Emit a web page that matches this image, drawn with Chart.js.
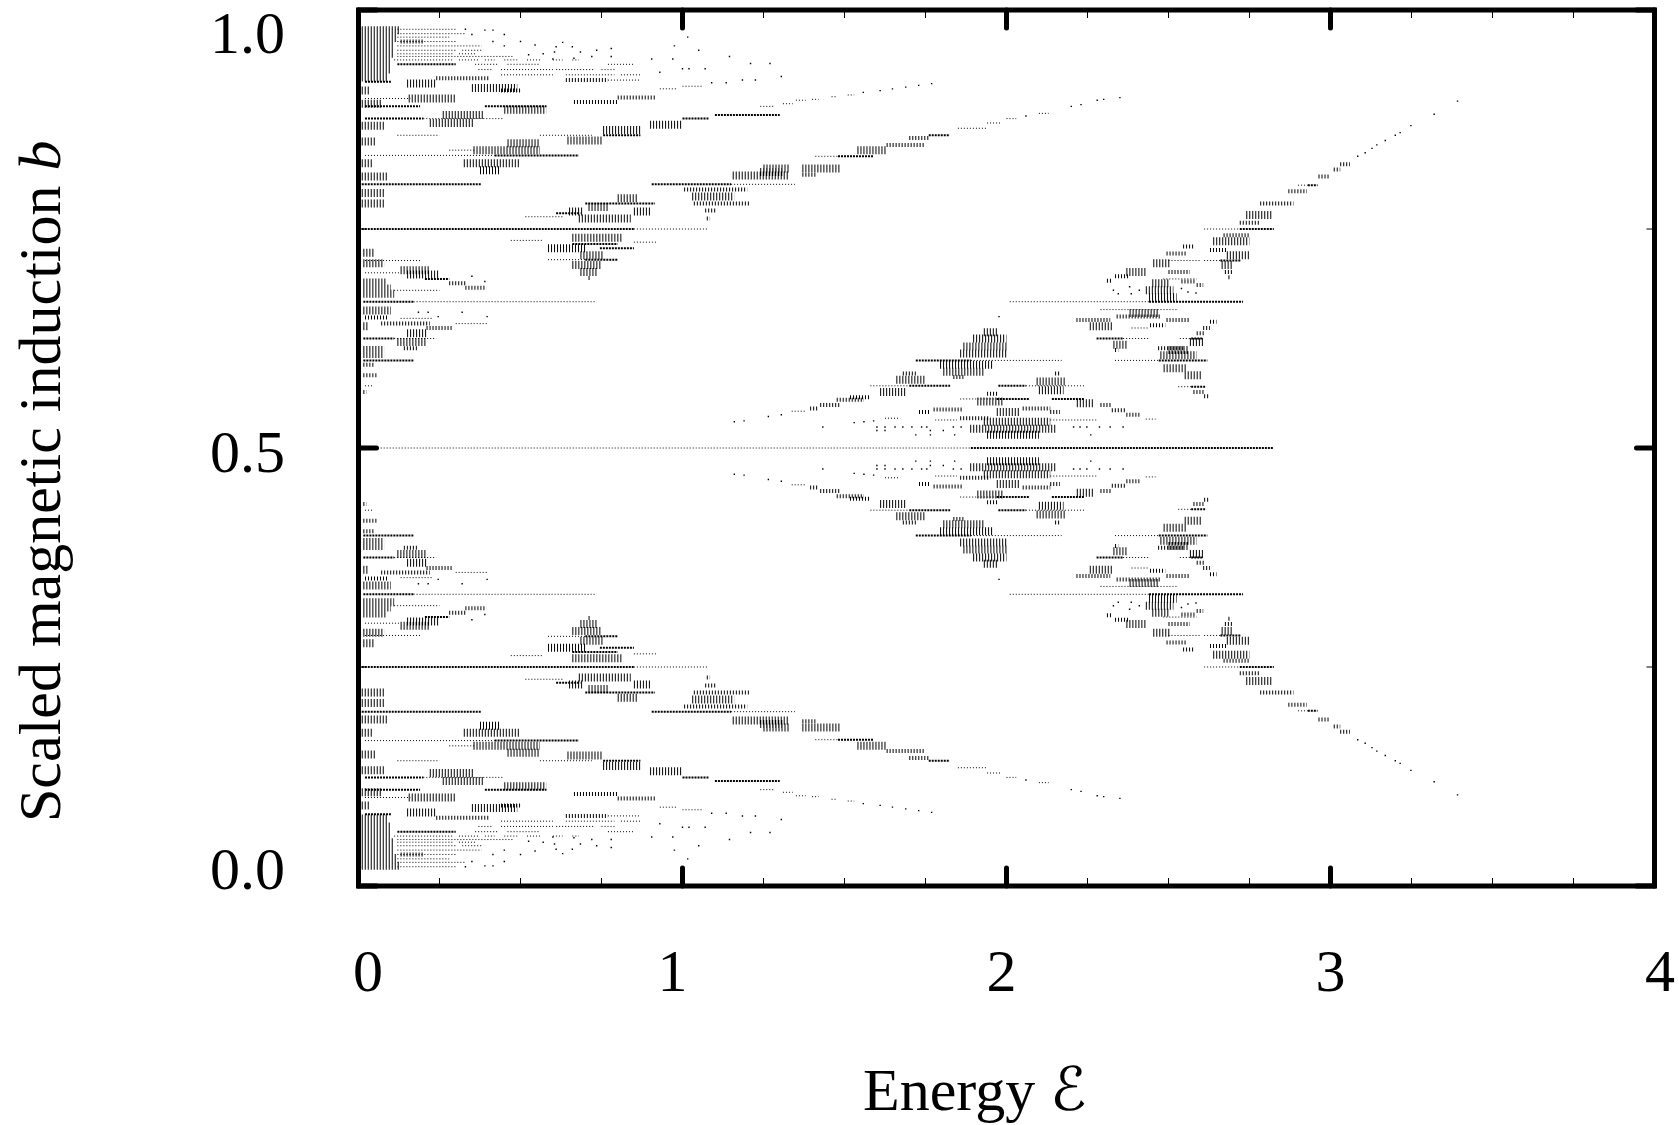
<!DOCTYPE html>
<html>
<head>
<meta charset="utf-8">
<title>Scaled magnetic induction vs energy</title>
<script src="https://cdn.jsdelivr.net/npm/chart.js@4"></script>
<style>
  body { margin: 0; background: #fff; overflow: hidden; }
  canvas { display: block; }
</style>
</head>
<body>
<canvas id="chart" width="1679" height="1125"></canvas>
<script>
// values. rows are [b, energy from, energy to], specks are [b, energy]
const faintUpper = [[.978,.12,.3],[.973,.12,.33],[.969,.12,.28],[.964,.12,.3],[.959,.12,.38],[.954,.12,.3],[.954,.32,.38],[.95,.12,.29],[.95,.31,.36],[.947,.12,.48],[.943,.11,.29],[.943,.31,.37],[.943,.39,.42],[.943,.45,.49],[.943,.52,.56],[.943,.6,.63],[.943,.66,.68],[.938,.36,.43],[.938,.46,.56],[.938,.77,.85],[.932,.37,.41],[.932,.44,.6],[.932,.61,.73],[.932,.75,.79],[.926,.44,.6],[.926,.64,.79],[.926,.81,.87],[.92,.77,.87],[.913,1,1.065],[.91,.93,.98],[.899,.02,.16],[.876,.2,.45],[.857,.12,.25],[.857,.56,.72],[.84,.28,.36],[.834,.02,.42],[.801,1.15,1.347],[.75,.85,1.08],[.764,.515,.63],[.735,.85,.92],[.737,.47,.57],[.715,.585,.7],[.714,.02,.19],[.7,.02,.13],[.68,.11,.25],[.667,.17,.735],[.648,.13,.23],[.642,.3,.4],[.625,.11,.24],[.571,.02,.045],[.89,1.24,1.285],[.893,1.31,1.34],[.897,1.35,1.38],[.898,1.4,1.42],[.901,1.46,1.475],[.903,1.51,1.53],[.865,1.85,1.94],[.871,1.94,1.98],[.876,2,2.03],[.882,2.1,2.13],[.6,1.89,2.17],[.571,1.58,1.7],[.571,2.06,2.24],[.556,1.857,1.97],[.5,.05,1.89],[.542,1.337,1.378],[.534,1.625,1.67],[.532,1.78,1.847],[.532,2.135,2.28],[.6,2.335,2.47],[.57,2.53,2.57],[.533,2.43,2.46],[.667,2.01,2.44],[.75,2.61,2.72],[.714,2.61,2.66],[.714,2.5,2.6],[.693,2.484,2.587],[.8,2.9,2.93],[.833,1.41,1.48],[.658,2.29,2.525],[.625,2.36,2.443],[.637,2.386,2.44],[.625,2.535,2.57]];
const boldUpper = [[.938,.12,.3],[.918,.02,.1],[.89,.02,.19],[.89,.39,.58],[.876,.02,.2],[.857,.755,.87],[.834,.42,.68],[.801,.01,.38],[.801,.905,1.15],[.779,.7,.915],[.768,.61,.685],[.75,.01,.85],[.733,.66,.8],[.728,.745,.85],[.715,.7,.8],[.693,.205,.28],[.667,.015,.17],[.625,.015,.11],[.6,.015,.17],[.5,1.89,2.825],[.6,1.72,1.89],[.6,2.47,2.62],[.571,1.7,1.826],[.571,1.975,2.06],[.556,1.97,2.07],[.556,2.14,2.24],[.667,2.44,2.73],[.75,2.72,2.825],[.714,2.66,2.725],[.57,2.57,2.613],[.833,1.48,1.59],[.857,1.76,1.825],[.8,2.93,2.96],[.88,1.1,1.3],[.876,1,1.08],[.625,2.278,2.36],[.625,2.57,2.607]];
const midUpper = [[.895,.665,.8],[.9,.8,.92],[.92,.64,.77],[.922,.24,.405],[.908,.44,.5],[.795,1.005,1.2],[.779,1.035,1.21],[.771,1.07,1.105],[.762,1.075,1.085],[.743,2.67,2.75],[.726,2.628,2.68],[.555,1.476,1.56],[.558,1.517,1.58],[.585,1.68,1.72],[.581,1.836,1.867],[.549,1.425,1.487],[.545,1.394,1.42],[.562,1.94,1.975],[.544,1.775,1.867],[.545,2.05,2.135],[.541,2.135,2.165],[.541,1.73,1.765],[.534,1.857,1.95],[.585,2.15,2.165],[.549,2.29,2.325],[.543,2.325,2.37],[.538,2.37,2.41],[.564,2.577,2.613],[.559,2.61,2.625],[.793,2.87,2.927],[.779,2.783,2.886],[.757,2.72,2.78],[.81,2.963,2.994],[.818,3.01,3.03],[.824,3.03,3.06],[.722,2.494,2.556],[.73,2.545,2.576],[.701,2.5,2.566],[.696,2.335,2.38],[.691,2.31,2.325],[.701,2.674,2.698],[.695,2.685,2.69],[.69,2.54,2.58],[.686,2.587,2.607],[.846,1.63,1.75],[.854,1.7,1.76],[.688,.28,.33],[.683,.33,.395],[.642,.07,.22],[.637,.21,.29],[.649,.02,.09],[.614,.14,.18],[.605,.015,.08],[.595,.015,.05],[.583,.015,.06],[.564,.015,.025],[.694,.71,.715],[.964,.13,.2],[.812,1.37,1.41],[.646,2.216,2.32],[.65,2.34,2.474],[.64,2.443,2.49],[.646,2.494,2.566],[.631,2.587,2.612],[.637,2.607,2.628],[.644,2.628,2.648],[.614,2.468,2.55],[.612,2.335,2.345]];
const tallUpper = [[.977,.01,.13],[.968,.01,.12],[.959,.01,.11],[.95,.01,.11],[.941,.01,.1],[.932,.01,.1],[.923,.01,.09],[.908,.01,.035],[.893,.01,.07],[.868,.01,.08],[.85,.01,.055],[.825,.01,.045],[.81,.01,.09],[.791,.01,.08],[.779,.01,.08],[.723,.015,.05],[.711,.015,.08],[.689,.015,.087],[.682,.015,.1],[.676,.015,.11],[.657,.015,.1],[.639,.015,.03],[.612,.015,.08],[.916,.15,.24],[.899,.155,.3],[.911,.35,.49],[.88,.26,.385],[.871,.22,.355],[.848,.46,.56],[.84,.355,.56],[.825,.325,.5],[.817,.375,.435],[.851,.645,.755],[.863,.755,.87],[.886,.45,.58],[.869,.9,1],[.787,1.03,1.16],[.811,1.155,1.33],[.819,1.25,1.33],[.815,1.24,1.31],[.819,1.37,1.486],[.84,1.54,1.63],[.785,.8,.86],[.775,.71,.77],[.77,.85,.9],[.77,.65,.695],[.762,.68,.84],[.74,.66,.815],[.728,.585,.7],[.72,.685,.755],[.709,.66,.75],[.701,.685,.735],[.703,.13,.22],[.698,.15,.25],[.631,.15,.21],[.621,.12,.21],[.564,1.61,1.69],[.578,1.66,1.75],[.595,1.795,1.96],[.587,1.805,1.93],[.608,1.857,2],[.616,1.867,2],[.625,1.897,2],[.632,1.93,1.975],[.553,1.91,1.99],[.576,2.093,2.18],[.566,2.1,2.176],[.551,2.217,2.27],[.53,1.93,2.135],[.522,1.888,2.155],[.515,1.94,2.1],[.541,1.97,2.04],[.606,2.475,2.587],[.612,2.5,2.56],[.591,2.485,2.555],[.583,2.55,2.6],[.736,2.638,2.75],[.72,2.68,2.75],[.709,2.664,2.7],[.711,2.453,2.504],[.701,2.37,2.43],[.688,2.45,2.5],[.68,2.43,2.515],[.672,2.44,2.525],[.766,2.74,2.82],[.654,2.38,2.47],[.639,2.257,2.33],[.618,2.33,2.376],[.621,2.566,2.607]];
const specksUpper = [[.969,1.016],[.959,.975],[.954,1.05],[.947,1.145],[.944,.97],[.944,.905],[.939,1.21],[.939,1.27],[.933,1.07],[.933,1],[.933,1.02],[.929,.93],[.924,1.305],[.92,1.225],[.92,1.185],[.917,1.135],[.917,1.09],[.964,.5],[.96,.545],[.958,.61],[.963,.63],[.958,.66],[.952,.605],[.952,.685],[.954,.735],[.956,.78],[.947,.78],[.947,.72],[.945,.665],[.944,.6],[.95,.57],[.949,.525],[.972,.35],[.977,.39],[.977,.415],[.972,.45],[.964,.415],[.959,.45],[.978,.33],[.906,1.558],[.908,1.61],[.91,1.648],[.912,1.689],[.914,1.729],[.916,1.769],[.879,2.06],[.89,2.2],[.892,2.23],[.897,2.28],[.898,2.3],[.9,2.35],[.833,3.084],[.837,3.107],[.842,3.128],[.846,3.143],[.851,3.169],[.857,3.2],[.86,3.215],[.868,3.248],[.881,3.32],[.896,3.392],[.53,1.16],[.531,1.19],[.536,1.265],[.538,1.305],[.524,1.433],[.529,1.53],[.53,1.56],[.531,1.59],[.524,1.6],[.524,1.625],[.524,1.656],[.524,1.68],[.524,1.708],[.524,1.738],[.524,1.754],[.52,1.6],[.52,1.625],[.52,1.765],[.52,1.805],[.515,1.72],[.515,1.765],[.515,1.84],[.524,1.836],[.524,1.86],[.524,2.207],[.524,2.227],[.524,2.248],[.524,2.287],[.524,2.32],[.524,2.36],[.515,2.26],[.655,.185],[.655,.215],[.65,.246],[.655,.32],[.65,.397],[.696,.35],[.69,.39],[.68,2.33],[.676,2.345],[.684,2.38],[.676,2.385],[.68,2.41],[.682,2.54],[.678,2.56],[.677,2.585],[.65,1.977]];

const faintLower = [[.022,.12,.3],[.027,.12,.33],[.031,.12,.28],[.036,.12,.3],[.041,.12,.38],[.046,.12,.3],[.046,.32,.38],[.05,.12,.29],[.05,.31,.36],[.053,.12,.48],[.057,.11,.29],[.057,.31,.37],[.057,.39,.42],[.057,.45,.49],[.057,.52,.56],[.057,.6,.63],[.057,.66,.68],[.062,.36,.43],[.062,.46,.56],[.062,.77,.85],[.068,.37,.41],[.068,.44,.6],[.068,.61,.73],[.068,.75,.79],[.074,.44,.6],[.074,.64,.79],[.074,.81,.87],[.08,.77,.87],[.087,1,1.065],[.09,.93,.98],[.101,.02,.16],[.124,.2,.45],[.143,.12,.25],[.143,.56,.72],[.16,.28,.36],[.166,.02,.42],[.199,1.15,1.347],[.25,.85,1.08],[.236,.515,.63],[.265,.85,.92],[.263,.47,.57],[.285,.585,.7],[.286,.02,.19],[.3,.02,.13],[.32,.11,.25],[.333,.17,.735],[.352,.13,.23],[.358,.3,.4],[.375,.11,.24],[.429,.02,.045],[.11,1.24,1.285],[.107,1.31,1.34],[.103,1.35,1.38],[.102,1.4,1.42],[.099,1.46,1.475],[.097,1.51,1.53],[.135,1.85,1.94],[.129,1.94,1.98],[.124,2,2.03],[.118,2.1,2.13],[.4,1.89,2.17],[.429,1.58,1.7],[.429,2.06,2.24],[.444,1.857,1.97],[.458,1.337,1.378],[.466,1.625,1.67],[.468,1.78,1.847],[.468,2.135,2.28],[.4,2.335,2.47],[.43,2.53,2.57],[.467,2.43,2.46],[.333,2.01,2.44],[.25,2.61,2.72],[.286,2.61,2.66],[.286,2.5,2.6],[.307,2.484,2.587],[.2,2.9,2.93],[.167,1.41,1.48],[.342,2.29,2.525],[.375,2.36,2.443],[.363,2.386,2.44],[.375,2.535,2.57]];
const boldLower = [[.062,.12,.3],[.082,.02,.1],[.11,.02,.19],[.11,.39,.58],[.124,.02,.2],[.143,.755,.87],[.166,.42,.68],[.199,.01,.38],[.199,.905,1.15],[.221,.7,.915],[.232,.61,.685],[.25,.01,.85],[.267,.66,.8],[.272,.745,.85],[.285,.7,.8],[.307,.205,.28],[.333,.015,.17],[.375,.015,.11],[.4,.015,.17],[.4,1.72,1.89],[.4,2.47,2.62],[.429,1.7,1.826],[.429,1.975,2.06],[.444,1.97,2.07],[.444,2.14,2.24],[.333,2.44,2.73],[.25,2.72,2.825],[.286,2.66,2.725],[.43,2.57,2.613],[.167,1.48,1.59],[.143,1.76,1.825],[.2,2.93,2.96],[.12,1.1,1.3],[.124,1,1.08],[.375,2.278,2.36],[.375,2.57,2.607]];
const midLower = [[.105,.665,.8],[.1,.8,.92],[.08,.64,.77],[.078,.24,.405],[.092,.44,.5],[.205,1.005,1.2],[.221,1.035,1.21],[.229,1.07,1.105],[.238,1.075,1.085],[.257,2.67,2.75],[.274,2.628,2.68],[.445,1.476,1.56],[.442,1.517,1.58],[.415,1.68,1.72],[.419,1.836,1.867],[.451,1.425,1.487],[.455,1.394,1.42],[.438,1.94,1.975],[.456,1.775,1.867],[.455,2.05,2.135],[.459,2.135,2.165],[.459,1.73,1.765],[.466,1.857,1.95],[.415,2.15,2.165],[.451,2.29,2.325],[.457,2.325,2.37],[.462,2.37,2.41],[.436,2.577,2.613],[.441,2.61,2.625],[.207,2.87,2.927],[.221,2.783,2.886],[.243,2.72,2.78],[.19,2.963,2.994],[.182,3.01,3.03],[.176,3.03,3.06],[.278,2.494,2.556],[.27,2.545,2.576],[.299,2.5,2.566],[.304,2.335,2.38],[.309,2.31,2.325],[.299,2.674,2.698],[.305,2.685,2.69],[.31,2.54,2.58],[.314,2.587,2.607],[.154,1.63,1.75],[.146,1.7,1.76],[.312,.28,.33],[.317,.33,.395],[.358,.07,.22],[.363,.21,.29],[.351,.02,.09],[.386,.14,.18],[.395,.015,.08],[.405,.015,.05],[.417,.015,.06],[.436,.015,.025],[.306,.71,.715],[.036,.13,.2],[.188,1.37,1.41],[.354,2.216,2.32],[.35,2.34,2.474],[.36,2.443,2.49],[.354,2.494,2.566],[.369,2.587,2.612],[.363,2.607,2.628],[.356,2.628,2.648],[.386,2.468,2.55],[.388,2.335,2.345]];
const tallLower = [[.023,.01,.13],[.032,.01,.12],[.041,.01,.11],[.05,.01,.11],[.059,.01,.1],[.068,.01,.1],[.077,.01,.09],[.092,.01,.035],[.107,.01,.07],[.132,.01,.08],[.15,.01,.055],[.175,.01,.045],[.19,.01,.09],[.209,.01,.08],[.221,.01,.08],[.277,.015,.05],[.289,.015,.08],[.311,.015,.087],[.318,.015,.1],[.324,.015,.11],[.343,.015,.1],[.361,.015,.03],[.388,.015,.08],[.084,.15,.24],[.101,.155,.3],[.089,.35,.49],[.12,.26,.385],[.129,.22,.355],[.152,.46,.56],[.16,.355,.56],[.175,.325,.5],[.183,.375,.435],[.149,.645,.755],[.137,.755,.87],[.114,.45,.58],[.131,.9,1],[.213,1.03,1.16],[.189,1.155,1.33],[.181,1.25,1.33],[.185,1.24,1.31],[.181,1.37,1.486],[.16,1.54,1.63],[.215,.8,.86],[.225,.71,.77],[.23,.85,.9],[.23,.65,.695],[.238,.68,.84],[.26,.66,.815],[.272,.585,.7],[.28,.685,.755],[.291,.66,.75],[.299,.685,.735],[.297,.13,.22],[.302,.15,.25],[.369,.15,.21],[.379,.12,.21],[.436,1.61,1.69],[.422,1.66,1.75],[.405,1.795,1.96],[.413,1.805,1.93],[.392,1.857,2],[.384,1.867,2],[.375,1.897,2],[.368,1.93,1.975],[.447,1.91,1.99],[.424,2.093,2.18],[.434,2.1,2.176],[.449,2.217,2.27],[.47,1.93,2.135],[.478,1.888,2.155],[.485,1.94,2.1],[.459,1.97,2.04],[.394,2.475,2.587],[.388,2.5,2.56],[.409,2.485,2.555],[.417,2.55,2.6],[.264,2.638,2.75],[.28,2.68,2.75],[.291,2.664,2.7],[.289,2.453,2.504],[.299,2.37,2.43],[.312,2.45,2.5],[.32,2.43,2.515],[.328,2.44,2.525],[.234,2.74,2.82],[.346,2.38,2.47],[.361,2.257,2.33],[.382,2.33,2.376],[.379,2.566,2.607]];
const specksLower = [[.031,1.016],[.041,.975],[.046,1.05],[.053,1.145],[.056,.97],[.056,.905],[.061,1.21],[.061,1.27],[.067,1.07],[.067,1],[.067,1.02],[.071,.93],[.076,1.305],[.08,1.225],[.08,1.185],[.083,1.135],[.083,1.09],[.036,.5],[.04,.545],[.042,.61],[.037,.63],[.042,.66],[.048,.605],[.048,.685],[.046,.735],[.044,.78],[.053,.78],[.053,.72],[.055,.665],[.056,.6],[.05,.57],[.051,.525],[.028,.35],[.023,.39],[.023,.415],[.028,.45],[.036,.415],[.041,.45],[.022,.33],[.094,1.558],[.092,1.61],[.09,1.648],[.088,1.689],[.086,1.729],[.084,1.769],[.121,2.06],[.11,2.2],[.108,2.23],[.103,2.28],[.102,2.3],[.1,2.35],[.167,3.084],[.163,3.107],[.158,3.128],[.154,3.143],[.149,3.169],[.143,3.2],[.14,3.215],[.132,3.248],[.119,3.32],[.104,3.392],[.47,1.16],[.469,1.19],[.464,1.265],[.462,1.305],[.476,1.433],[.471,1.53],[.47,1.56],[.469,1.59],[.476,1.6],[.476,1.625],[.476,1.656],[.476,1.68],[.476,1.708],[.476,1.738],[.476,1.754],[.48,1.6],[.48,1.625],[.48,1.765],[.48,1.805],[.485,1.72],[.485,1.765],[.485,1.84],[.476,1.836],[.476,1.86],[.476,2.207],[.476,2.227],[.476,2.248],[.476,2.287],[.476,2.32],[.476,2.36],[.485,2.26],[.345,.185],[.345,.215],[.35,.246],[.345,.32],[.35,.397],[.304,.35],[.31,.39],[.32,2.33],[.324,2.345],[.316,2.38],[.324,2.385],[.32,2.41],[.318,2.54],[.322,2.56],[.323,2.585],[.35,1.977]];

const xLabels = ['0', '1', '2', '3', '4'];
const yLabels = ['0.0', '0.5', '1.0'];
const xLabelValues = [0, 1, 2, 3, 4];
const yLabelValues = [0, 0.5, 1];

function rowsDataset(rows, width, dash) {
  return {
    showLine: true,
    data: rows.flatMap(([b, e1, e2]) => [{x: e1, y: b}, {x: e2, y: b}, {x: null, y: null}]),
    borderColor: '#000',
    borderWidth: width,
    borderDash: dash,
    pointRadius: 0,
    spanGaps: false
  };
}

function specksDataset(specks) {
  return {
    data: specks.map(([b, e]) => ({x: e, y: b})),
    backgroundColor: '#000',
    borderWidth: 0,
    pointStyle: 'rect',
    pointRadius: 1
  };
}

const serif = '"Liberation Serif", "Times New Roman", serif';

// gnuplot style frame with inward ticks on all four sides
const framePlugin = {
  id: 'frame',
  afterDraw(chart) {
    const ctx = chart.ctx;
    const a = chart.chartArea;
    const {x, y} = chart.scales;
    ctx.save();
    ctx.strokeStyle = '#000';
    x.ticks.forEach(t => {
      const major = Number.isInteger(t.value);
      const p = x.getPixelForValue(t.value);
      ctx.lineWidth = major ? 5 : 1;
      ctx.lineCap = major ? 'round' : 'butt';
      const len = major ? 18 : 8;
      ctx.beginPath();
      ctx.moveTo(p, a.top); ctx.lineTo(p, a.top + len);
      ctx.moveTo(p, a.bottom); ctx.lineTo(p, a.bottom - len);
      ctx.stroke();
    });
    y.ticks.forEach(t => {
      const major = Number.isInteger(t.value * 2);
      const p = y.getPixelForValue(t.value);
      ctx.lineWidth = major ? 5 : 1;
      ctx.lineCap = major ? 'round' : 'butt';
      const len = major ? 18 : 8;
      ctx.beginPath();
      ctx.moveTo(a.left, p); ctx.lineTo(a.left + len, p);
      ctx.moveTo(a.right, p); ctx.lineTo(a.right - len, p);
      ctx.stroke();
    });
    ctx.lineCap = 'butt';
    ctx.lineWidth = 5;
    ctx.strokeRect(a.left, a.top, a.right - a.left, a.bottom - a.top);

    // tick labels sit off their ticks in the original
    ctx.fillStyle = '#000';
    ctx.font = '60px ' + serif;
    ctx.textBaseline = 'alphabetic';
    ctx.textAlign = 'center';
    const xShift = [9.5, -10, -5, 0, 5.5];
    xLabels.forEach((l, i) => ctx.fillText(l, x.getPixelForValue(xLabelValues[i]) + xShift[i], 991));
    ctx.textAlign = 'right';
    const yShift = [3, 24, 43];
    yLabels.forEach((l, i) => ctx.fillText(l, 285, y.getPixelForValue(yLabelValues[i]) + yShift[i]));

    // axis titles, mixed upright and italic
    ctx.textAlign = 'left';
    ctx.fillText('Energy ', 863, 1110);
    const w = ctx.measureText('Energy ').width;
    ctx.font = 'italic 60px "DejaVu Serif", "DejaVu Sans", ' + serif;
    ctx.fillText('\u2130', 863 + w, 1110);

    ctx.translate(60, 822);
    ctx.rotate(-Math.PI / 2);
    ctx.font = '60px ' + serif;
    ctx.fillText('Scaled magnetic induction ', 0, 0);
    const w2 = ctx.measureText('Scaled magnetic induction ').width;
    ctx.font = 'italic 60px ' + serif;
    ctx.fillText('b', w2, 0);
    ctx.restore();
  }
};

new Chart(document.getElementById('chart'), {
  type: 'scatter',
  data: {
    datasets: [
      rowsDataset(faintUpper, 1, [1, 2]),
      rowsDataset(faintLower, 1, [1, 2]),
      rowsDataset(boldUpper, 2, [2, 1]),
      rowsDataset(boldLower, 2, [2, 1]),
      rowsDataset(midUpper, 4, [1, 2]),
      rowsDataset(midLower, 4, [1, 2]),
      rowsDataset(tallUpper, 8, [1, 2]),
      rowsDataset(tallLower, 8, [1, 2]),
      specksDataset(specksUpper),
      specksDataset(specksLower)
    ]
  },
  plugins: [framePlugin],
  options: {
    responsive: false,
    animation: false,
    devicePixelRatio: 1,
    layout: { padding: { left: 358.5, top: 10, right: 24.5, bottom: 239 } },
    plugins: { legend: { display: false }, tooltip: { enabled: false } },
    scales: {
      x: {
        type: 'linear', min: 0, max: 4,
        ticks: { stepSize: 0.25, display: false },
        grid: { display: false, drawTicks: false },
        border: { display: false }
      },
      y: {
        type: 'linear', min: 0, max: 1,
        ticks: { stepSize: 0.25, display: false },
        grid: { display: false, drawTicks: false },
        border: { display: false }
      }
    }
  }
});
</script>
</body>
</html>
